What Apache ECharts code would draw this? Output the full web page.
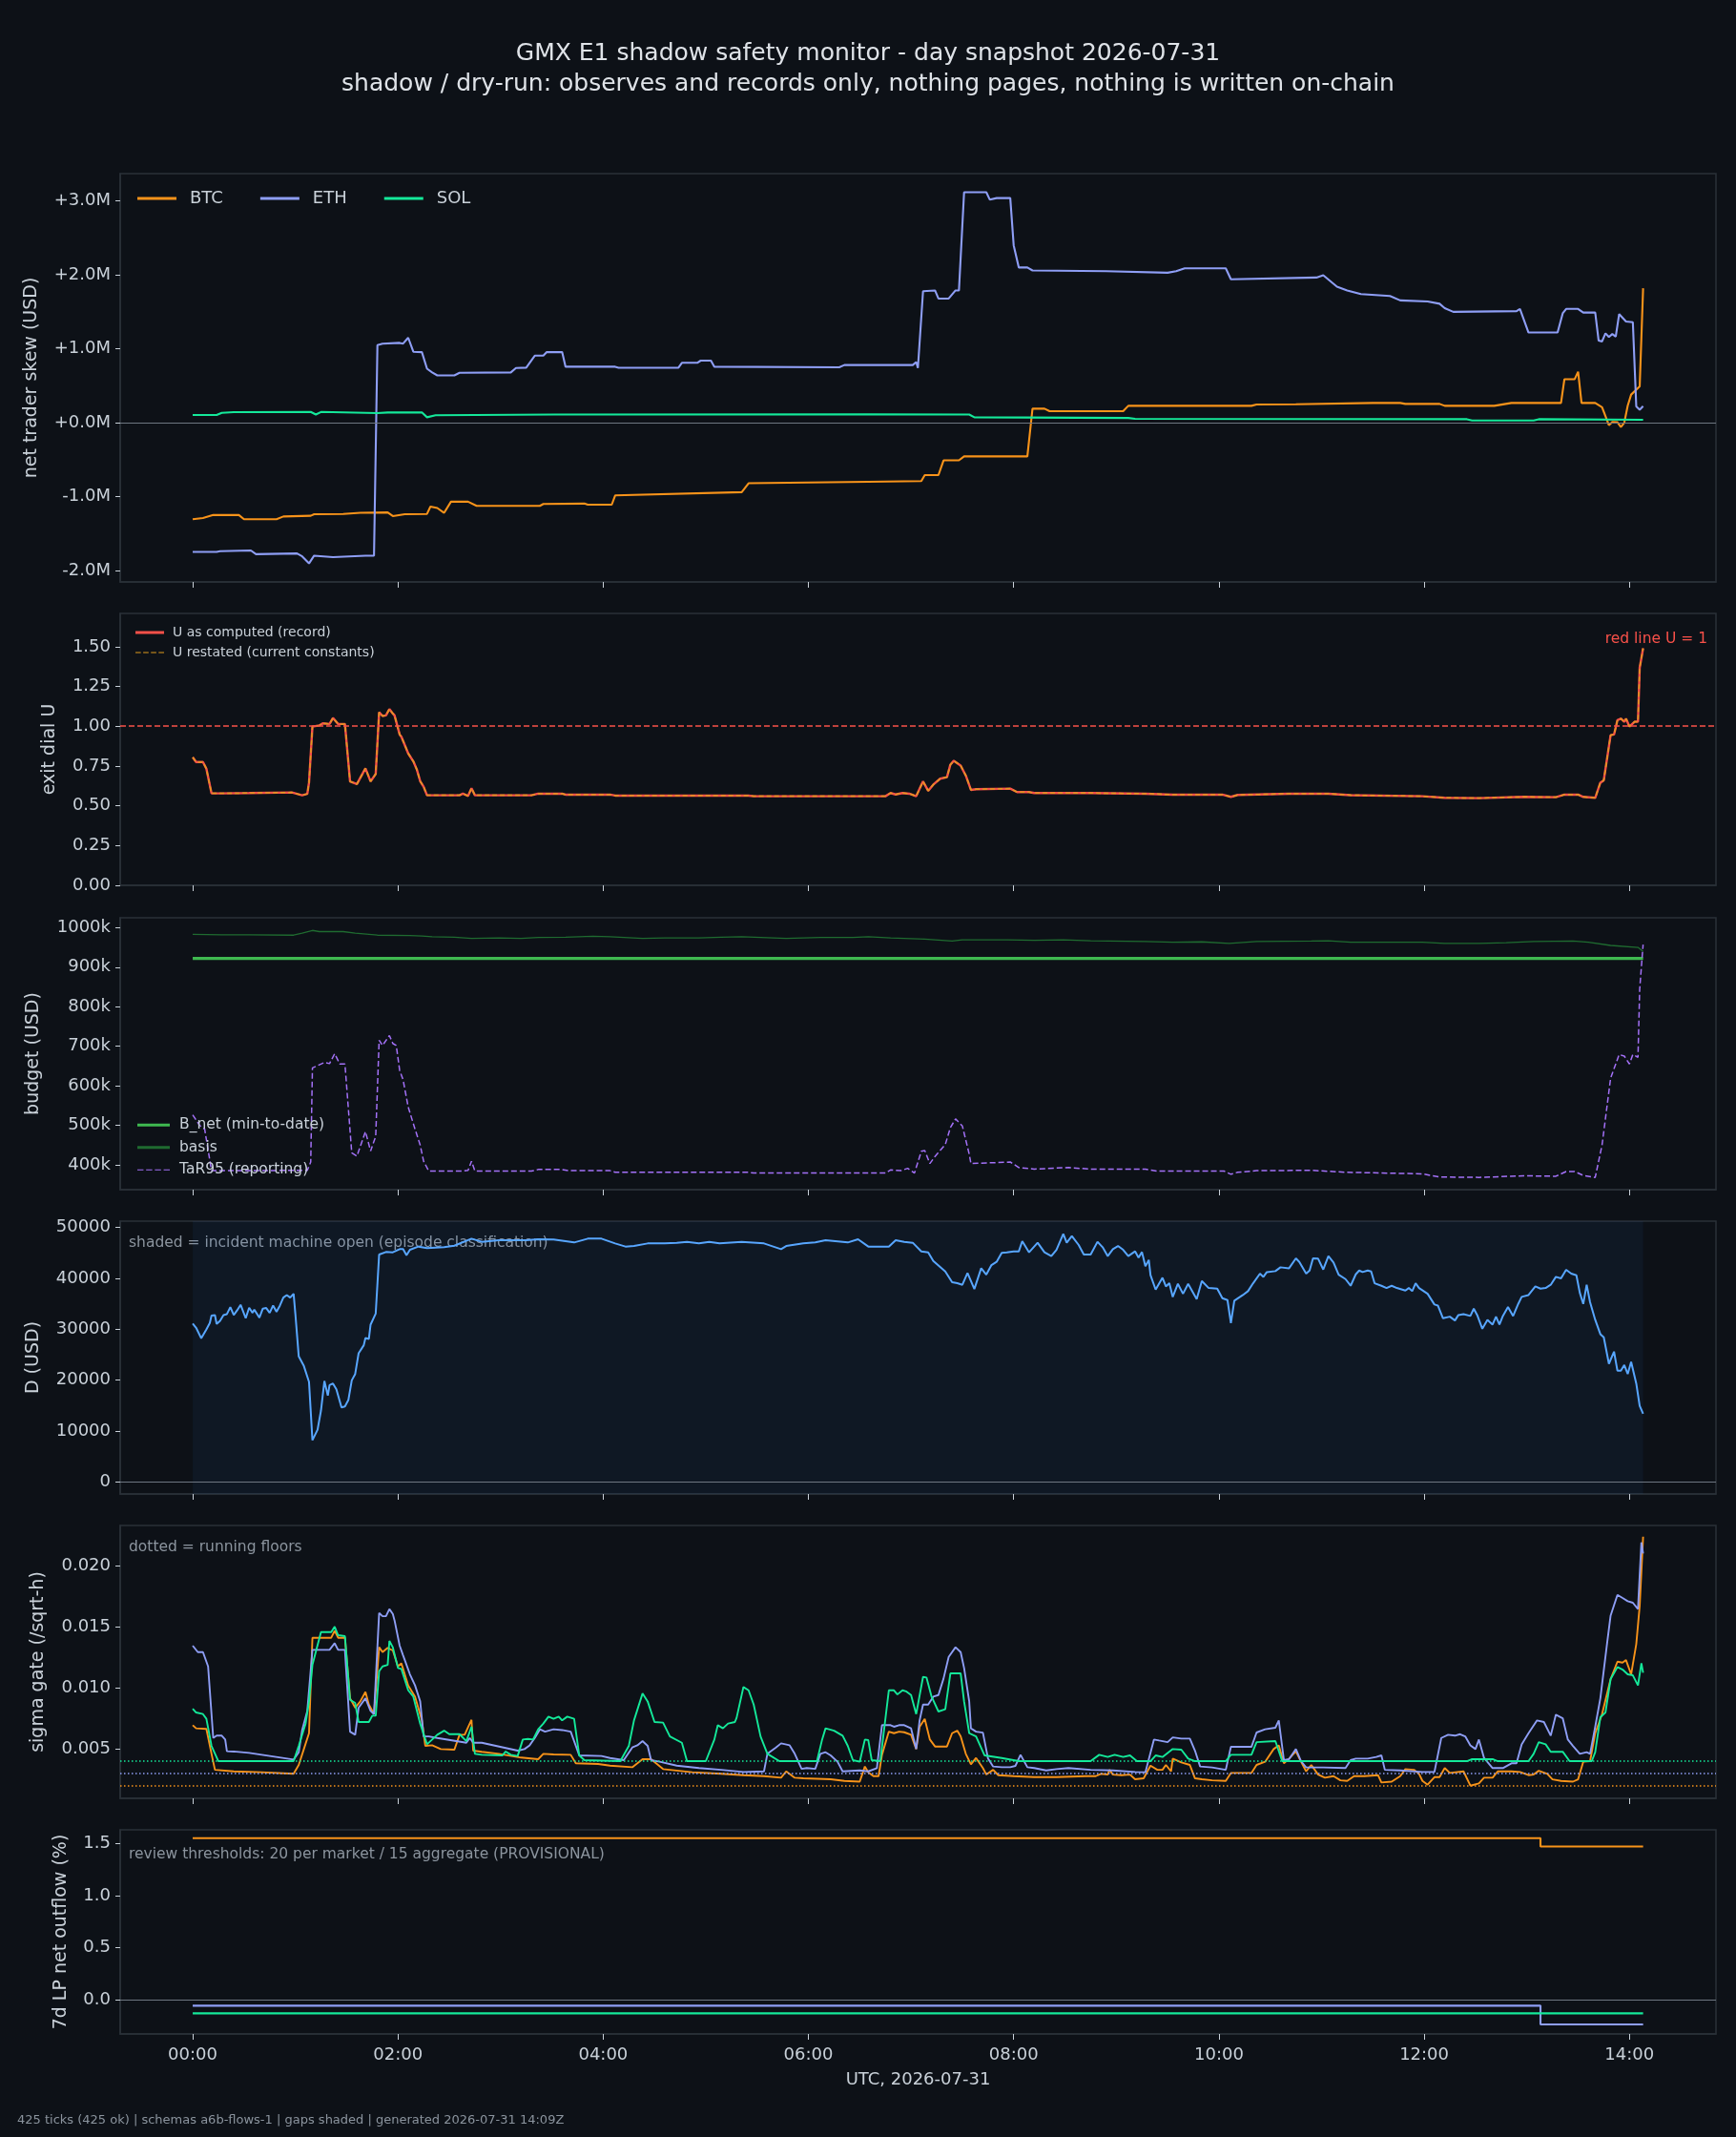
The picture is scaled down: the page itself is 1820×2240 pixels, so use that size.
<!DOCTYPE html>
<html>
<head>
<meta charset="utf-8">
<title>GMX E1 shadow safety monitor</title>
<script src="https://cdn.jsdelivr.net/npm/echarts@6.0.0/dist/echarts.min.js"></script>
<style>
html, body { margin: 0; padding: 0; background: #0d1117; }
#chart { width: 1820px; height: 2240px; }
</style>
</head>
<body>
<div id="chart"></div>
<script>
// x values are minutes after 00:00 UTC (one tick every 2 min)
var hourTicks = [0, 120, 240, 360, 480, 600, 720, 840];
var markets = ['BTC', 'ETH', 'SOL'];

// panel 1: net trader skew, $M
var btcSkew = [[0,-1.307],[6,-1.29],[12,-1.25],[27,-1.25],[30,-1.307],[49,-1.307],[53,-1.27],[69,-1.26],[71,-1.24],[88,-1.235],[98,-1.22],[114,-1.215],[117,-1.264],[124,-1.24],[137,-1.235],[139,-1.135],[143,-1.155],[147,-1.22],[151,-1.07],[161,-1.07],[166,-1.126],[203,-1.126],[205,-1.10],[229,-1.095],[231,-1.11],[245,-1.11],[247,-0.985],[321,-0.94],[325,-0.82],[395,-0.80],[426,-0.79],[428,-0.71],[436,-0.71],[439,-0.51],[448,-0.51],[451,-0.456],[488,-0.456],[491,0.19],[498,0.19],[501,0.155],[544,0.155],[547,0.228],[619,0.228],[622,0.245],[645,0.25],[690,0.267],[706,0.267],[709,0.254],[729,0.254],[732,0.228],[761,0.228],[771,0.267],[800,0.267],[802,0.589],[808,0.589],[810,0.69],[812,0.267],[820,0.267],[824,0.21],[828,-0.034],[830,0.01],[833,0.005],[835,-0.06],[837,0.0],[839,0.23],[841,0.38],[846,0.49],[848,1.82]];
var ethSkew = [[0,-1.75],[14,-1.75],[16,-1.74],[34,-1.73],[37,-1.78],[61,-1.77],[64,-1.81],[68,-1.905],[71,-1.80],[82,-1.82],[101,-1.80],[106,-1.80],[108,1.05],[111,1.07],[121,1.08],[123,1.07],[126,1.15],[129,0.96],[134,0.955],[137,0.73],[140,0.68],[143,0.64],[153,0.64],[156,0.675],[186,0.68],[189,0.74],[195,0.745],[200,0.907],[205,0.907],[207,0.955],[216,0.955],[218,0.757],[247,0.757],[249,0.744],[284,0.744],[286,0.81],[295,0.81],[297,0.84],[303,0.84],[305,0.757],[378,0.75],[381,0.78],[421,0.78],[423,0.82],[424,0.74],[427,1.78],[434,1.79],[436,1.68],[442,1.68],[446,1.79],[448,1.79],[451,3.12],[464,3.12],[466,3.02],[470,3.04],[478,3.04],[480,2.40],[483,2.10],[488,2.10],[491,2.06],[534,2.05],[570,2.03],[575,2.05],[580,2.09],[604,2.09],[607,1.94],[657,1.965],[661,1.995],[669,1.84],[675,1.79],[683,1.74],[700,1.715],[706,1.655],[722,1.64],[729,1.61],[732,1.55],[737,1.50],[774,1.51],[776,1.54],[781,1.22],[798,1.22],[801,1.48],[803,1.54],[810,1.54],[813,1.49],[820,1.49],[822,1.11],[824,1.10],[826,1.21],[828,1.16],[830,1.20],[832,1.165],[834,1.47],[838,1.37],[842,1.36],[844,0.22],[846,0.176],[848,0.224]];
var solSkew = [[0,0.103],[14,0.103],[17,0.133],[24,0.142],[69,0.146],[72,0.11],[75,0.145],[108,0.129],[114,0.138],[134,0.138],[137,0.073],[142,0.10],[211,0.11],[395,0.112],[454,0.11],[457,0.073],[547,0.064],[551,0.052],[745,0.047],[748,0.03],[784,0.03],[787,0.047],[848,0.039]];
var skewTicks = [-2, -1, 0, 1, 2, 3];

// panel 2: exit dial U
var uRecord = [[0,0.805],[2,0.775],[6,0.775],[8,0.733],[11,0.578],[17,0.578],[33,0.58],[58,0.584],[61,0.575],[64,0.566],[67,0.575],[68,0.645],[70,0.998],[74,1.005],[76,1.018],[80,1.014],[82,1.052],[85,1.014],[89,1.014],[92,0.653],[96,0.636],[101,0.735],[104,0.653],[107,0.70],[109,1.088],[111,1.064],[113,1.068],[115,1.108],[117,1.08],[118,1.068],[121,0.948],[122,0.934],[126,0.829],[129,0.779],[131,0.729],[133,0.655],[135,0.62],[137,0.566],[156,0.566],[158,0.576],[161,0.562],[163,0.61],[165,0.566],[198,0.566],[202,0.576],[216,0.576],[218,0.57],[244,0.57],[247,0.564],[325,0.564],[328,0.56],[405,0.56],[408,0.58],[411,0.571],[415,0.58],[419,0.576],[423,0.56],[427,0.653],[430,0.594],[433,0.633],[437,0.67],[441,0.68],[443,0.759],[445,0.783],[449,0.753],[452,0.69],[455,0.60],[458,0.604],[478,0.608],[482,0.586],[489,0.586],[492,0.58],[525,0.58],[557,0.576],[573,0.57],[602,0.57],[607,0.556],[611,0.568],[641,0.576],[664,0.576],[677,0.567],[719,0.56],[732,0.55],[752,0.548],[778,0.556],[797,0.554],[802,0.57],[810,0.57],[813,0.556],[820,0.55],[823,0.645],[825,0.66],[829,0.944],[831,0.948],[833,1.038],[835,1.048],[837,1.028],[838,1.048],[840,0.998],[843,1.028],[845,1.028],[846,1.367],[848,1.49]];
var uRestated = uRecord; // restated values overlay the record exactly on this day
var uRedLine = 1;
var uTicks = [0, 0.25, 0.5, 0.75, 1, 1.25, 1.5];

// panel 3: budget, $k
var bNet = [[0,922],[848,922]];
var basis = [[0,983],[17,982],[33,982],[59,981],[64,986],[70,993],[74,990],[88,990],[95,986],[108,981],[127,980],[134,979],[140,977],[153,976],[163,973],[179,974],[192,973],[202,975],[218,976],[234,978],[244,977],[263,973],[276,974],[296,974],[309,976],[321,977],[347,973],[367,975],[386,975],[395,977],[408,974],[428,971],[444,966],[450,969],[476,969],[492,968],[509,969],[525,967],[557,965],[573,963],[590,964],[606,960],[622,965],[654,966],[664,967],[677,963],[719,963],[732,960],[752,960],[768,962],[784,965],[807,966],[816,963],[829,955],[845,950],[848,940]];
var tar95 = [[0,526],[4,500],[7,490],[11,385],[24,385],[67,386],[69,407],[70,645],[77,659],[80,656],[83,681],[86,655],[89,655],[93,430],[96,422],[101,484],[104,435],[107,472],[109,715],[111,702],[115,727],[117,707],[119,702],[121,639],[123,615],[126,546],[130,490],[133,450],[135,409],[138,384],[158,384],[161,386],[163,409],[165,384],[198,384],[202,388],[216,388],[220,385],[244,385],[247,381],[325,381],[328,379],[405,379],[408,387],[414,385],[418,391],[422,379],[426,434],[428,436],[431,403],[434,421],[440,451],[443,494],[446,516],[450,498],[454,427],[455,403],[478,407],[483,393],[492,389],[512,393],[525,389],[557,389],[564,384],[603,384],[607,376],[611,381],[622,385],[654,386],[674,381],[719,377],[729,369],[752,368],[778,372],[797,371],[803,383],[808,383],[813,373],[820,368],[824,450],[829,619],[834,679],[837,675],[840,655],[842,679],[845,672],[846,844],[848,957]];
var budgetTicks = [400, 500, 600, 700, 800, 900, 1000];

// panel 4: D, USD; incident machine open over this span
var dUsd = [[0,31100],[2,30290],[5,28220],[6,28540],[8,29980],[10,31230],[11,32670],[13,32790],[14,31040],[16,31670],[18,32790],[20,32980],[22,34360],[24,32790],[26,33730],[28,34800],[31,32170],[33,34230],[35,33230],[36,33860],[39,32290],[41,34050],[43,34170],[45,33230],[47,34670],[49,33420],[51,34670],[53,36230],[55,36730],[57,36230],[59,36980],[60,33100],[62,24660],[65,22780],[68,19650],[70,8200],[73,10260],[75,14020],[77,19840],[79,16960],[80,19020],[82,19340],[84,18210],[87,14640],[89,14830],[91,16080],[93,19960],[95,21210],[97,25280],[100,26850],[101,28290],[103,28100],[104,30910],[107,33100],[109,44680],[110,44370],[113,45180],[117,45120],[121,45750],[123,45750],[125,44560],[127,45620],[132,46250],[137,45940],[147,46120],[153,46430],[163,47810],[169,47190],[179,47500],[195,47500],[202,47690],[211,47630],[223,47060],[231,47810],[239,47810],[247,46870],[253,46250],[258,46370],[266,46870],[276,46870],[283,47000],[289,47190],[296,46870],[302,47190],[308,46870],[321,47190],[334,46870],[344,45750],[347,46370],[357,46870],[364,47060],[370,47500],[383,47060],[389,47690],[395,46250],[407,46250],[411,47500],[416,47190],[421,47000],[426,45310],[430,45120],[433,43430],[440,41370],[444,39240],[447,39050],[450,38740],[453,41050],[457,37920],[461,41990],[464,40740],[467,42620],[470,43240],[473,45000],[476,45120],[480,45310],[483,45310],[485,47310],[489,45120],[494,47000],[498,45120],[502,44370],[505,45620],[509,48750],[511,47000],[514,48310],[518,46560],[521,44680],[525,44680],[529,47190],[532,46120],[535,44370],[538,45750],[541,46370],[544,45620],[547,44370],[551,45310],[553,44060],[555,45180],[557,42370],[559,43620],[560,40620],[563,37800],[567,40120],[569,38420],[571,39050],[573,36360],[576,38930],[579,36980],[582,38930],[587,35920],[590,39490],[594,38110],[599,37990],[602,36110],[605,35730],[607,31230],[609,35610],[614,36730],[617,37490],[620,39050],[624,40930],[626,40300],[628,41240],[633,41430],[636,42180],[641,41990],[645,43930],[647,43240],[651,40930],[653,41550],[655,43930],[658,43870],[661,41740],[664,44370],[667,43120],[670,40740],[674,39860],[677,38550],[680,40800],[682,41550],[684,41240],[687,41550],[689,41360],[691,39050],[695,38550],[698,38110],[701,38550],[704,38110],[709,37610],[711,38110],[713,37490],[715,39050],[717,38110],[722,36980],[726,34860],[728,34670],[731,32170],[735,32480],[738,31730],[740,32800],[743,32980],[747,32610],[749,34050],[751,32790],[754,30100],[757,31850],[760,30910],[762,32480],[764,30910],[766,32610],[769,34360],[772,32610],[775,34990],[777,36360],[781,36730],[785,38420],[788,37990],[791,38110],[794,38740],[797,40300],[800,39990],[803,41680],[806,40930],[809,40620],[811,37170],[813,34990],[815,38740],[817,35300],[820,31850],[823,29040],[825,28410],[828,23220],[831,25600],[833,21840],[835,21840],[837,22970],[839,21210],[841,23590],[844,19340],[846,14960],[848,13390]];
var incidentSpan = [0, 848];
var dTicks = [0, 10000, 20000, 30000, 40000, 50000];

// panel 5: sigma gate (/sqrt-h) and running floors
var btcSigma = [[0,0.00696],[2,0.0067],[8,0.00665],[11,0.00461],[13,0.0033],[24,0.00317],[40,0.0031],[59,0.00297],[62,0.0037],[65,0.005],[68,0.0063],[70,0.01413],[81,0.01413],[83,0.0147],[85,0.01413],[89,0.01413],[92,0.00917],[95,0.00839],[98,0.00891],[101,0.00969],[103,0.00865],[106,0.00787],[109,0.01335],[111,0.01295],[114,0.0133],[117,0.01309],[120,0.01178],[122,0.01204],[126,0.01022],[130,0.0093],[134,0.00735],[136,0.00526],[140,0.00531],[145,0.005],[153,0.00495],[156,0.00617],[159,0.00617],[163,0.0074],[164,0.00487],[169,0.00478],[179,0.00461],[192,0.0043],[202,0.00417],[205,0.00461],[211,0.00456],[221,0.00453],[224,0.00383],[237,0.00378],[244,0.00364],[257,0.00351],[260,0.00383],[263,0.00417],[268,0.00417],[275,0.00336],[292,0.0031],[309,0.00297],[322,0.00286],[334,0.00278],[344,0.00265],[347,0.00317],[352,0.00265],[357,0.0026],[373,0.00252],[381,0.00239],[390,0.00233],[393,0.00357],[395,0.0031],[398,0.00278],[401,0.00278],[403,0.00453],[407,0.00643],[410,0.0063],[413,0.00643],[416,0.00638],[420,0.00617],[423,0.005],[425,0.00683],[428,0.00748],[431,0.00578],[434,0.00521],[441,0.00521],[444,0.0063],[447,0.00651],[449,0.00604],[452,0.00461],[455,0.00375],[458,0.00427],[462,0.00344],[464,0.00291],[468,0.0033],[471,0.00286],[480,0.00278],[492,0.0027],[505,0.0027],[522,0.00278],[528,0.00278],[531,0.00297],[535,0.00291],[536,0.0033],[538,0.00291],[543,0.00286],[548,0.00291],[551,0.00252],[556,0.0026],[560,0.00364],[564,0.0033],[567,0.0033],[569,0.0037],[572,0.00317],[573,0.00422],[578,0.00391],[583,0.0037],[586,0.0026],[590,0.00252],[596,0.00244],[604,0.00239],[607,0.00304],[619,0.00304],[622,0.0037],[627,0.00396],[632,0.005],[635,0.00531],[638,0.00383],[641,0.00422],[645,0.0048],[648,0.00396],[651,0.00317],[654,0.0037],[658,0.00291],[662,0.00265],[667,0.00278],[671,0.00244],[675,0.00239],[679,0.00278],[685,0.00278],[693,0.00286],[695,0.00226],[701,0.00233],[706,0.00278],[709,0.00336],[714,0.0033],[717,0.00297],[719,0.00239],[722,0.00208],[726,0.0027],[729,0.0027],[732,0.00344],[735,0.00304],[743,0.00317],[747,0.002],[752,0.00218],[755,0.00265],[760,0.00265],[763,0.00317],[771,0.00317],[776,0.00312],[781,0.00286],[784,0.00291],[787,0.00322],[792,0.00297],[795,0.00252],[800,0.00239],[807,0.00233],[810,0.00252],[813,0.00396],[817,0.00401],[820,0.0063],[824,0.00787],[829,0.01074],[833,0.01217],[836,0.01209],[838,0.0123],[841,0.01113],[844,0.01361],[846,0.01674],[848,0.02242]];
var ethSigma = [[0,0.01348],[3,0.01295],[6,0.01295],[9,0.01178],[12,0.00591],[14,0.0061],[17,0.0061],[19,0.00578],[20,0.00482],[24,0.0048],[33,0.00469],[59,0.00414],[62,0.00474],[64,0.00656],[67,0.00813],[70,0.01314],[80,0.01314],[83,0.01368],[85,0.01314],[89,0.01314],[92,0.00643],[95,0.00617],[97,0.00839],[101,0.00917],[104,0.00813],[106,0.00787],[109,0.01616],[111,0.0159],[113,0.0159],[115,0.01648],[117,0.01608],[118,0.01556],[121,0.01348],[123,0.01269],[127,0.01113],[130,0.01022],[133,0.00891],[135,0.00604],[138,0.00604],[143,0.00591],[160,0.00552],[162,0.00591],[164,0.00552],[169,0.00552],[190,0.00487],[194,0.005],[197,0.00531],[200,0.00591],[203,0.00662],[206,0.00643],[211,0.00662],[216,0.00656],[221,0.00643],[226,0.00448],[239,0.00443],[244,0.00427],[252,0.00409],[257,0.00513],[260,0.00531],[263,0.00565],[266,0.00526],[268,0.00409],[273,0.00396],[283,0.00364],[296,0.00344],[309,0.0033],[322,0.00312],[334,0.00317],[336,0.00461],[341,0.00513],[344,0.00547],[349,0.00531],[352,0.00461],[356,0.00338],[359,0.00344],[364,0.00338],[367,0.00461],[370,0.00474],[373,0.00448],[377,0.00396],[380,0.00317],[390,0.00325],[395,0.00317],[400,0.00344],[403,0.00696],[408,0.00696],[410,0.00683],[413,0.00696],[416,0.00696],[420,0.0067],[423,0.005],[425,0.00735],[427,0.00865],[430,0.00865],[433,0.0093],[436,0.00943],[439,0.01079],[442,0.01256],[446,0.01335],[449,0.01295],[451,0.01165],[454,0.00891],[455,0.0067],[458,0.00643],[462,0.00635],[465,0.00422],[468,0.00357],[473,0.00351],[478,0.00351],[481,0.00362],[484,0.00453],[488,0.00351],[492,0.00344],[499,0.00325],[505,0.00336],[512,0.00344],[525,0.0033],[538,0.00325],[551,0.00312],[557,0.0031],[562,0.00578],[565,0.0057],[570,0.00557],[573,0.00596],[578,0.00586],[583,0.00586],[586,0.00487],[589,0.00357],[596,0.00349],[604,0.0033],[607,0.00518],[619,0.00518],[622,0.00636],[627,0.00662],[633,0.00675],[635,0.00735],[638,0.00409],[641,0.00417],[645,0.005],[648,0.00401],[651,0.00349],[661,0.00349],[674,0.00344],[677,0.00409],[680,0.00422],[687,0.00422],[692,0.00435],[695,0.00448],[697,0.0033],[706,0.00325],[719,0.00312],[726,0.00312],[730,0.00591],[734,0.00617],[738,0.0061],[741,0.00622],[744,0.00604],[747,0.00531],[750,0.005],[752,0.00578],[755,0.00427],[760,0.00344],[766,0.00344],[771,0.00383],[774,0.00383],[777,0.00539],[781,0.0063],[786,0.00735],[790,0.00722],[794,0.0061],[797,0.00782],[801,0.00753],[804,0.00578],[807,0.00526],[811,0.00461],[815,0.00474],[817,0.00461],[820,0.00683],[823,0.00917],[827,0.01374],[829,0.01595],[833,0.01765],[836,0.01739],[839,0.01713],[842,0.017],[845,0.01648],[847,0.02195],[848,0.02104]];
var solSigma = [[0,0.00831],[2,0.008],[6,0.00787],[8,0.00748],[11,0.00526],[15,0.00401],[59,0.00401],[62,0.00526],[66,0.00709],[68,0.00891],[70,0.01191],[75,0.0146],[81,0.0146],[83,0.01504],[85,0.01434],[89,0.01426],[92,0.00904],[95,0.00878],[97,0.00722],[103,0.00722],[105,0.00774],[107,0.00774],[109,0.01139],[111,0.01178],[114,0.01191],[115,0.01387],[117,0.01335],[120,0.01165],[122,0.01157],[126,0.00982],[129,0.0093],[133,0.00709],[137,0.00539],[140,0.00578],[143,0.00617],[147,0.00651],[150,0.00622],[156,0.00622],[160,0.00565],[163,0.00683],[165,0.00461],[169,0.00453],[181,0.00448],[183,0.0048],[186,0.00453],[190,0.00443],[193,0.00578],[196,0.00583],[199,0.00578],[202,0.00662],[205,0.00709],[208,0.00766],[211,0.00748],[214,0.00766],[216,0.00735],[219,0.00766],[223,0.00748],[226,0.00448],[229,0.00409],[250,0.00401],[255,0.00526],[258,0.00735],[263,0.00956],[266,0.00891],[270,0.00722],[275,0.00717],[279,0.00604],[286,0.00552],[289,0.00401],[300,0.00401],[305,0.00578],[307,0.00696],[310,0.0067],[313,0.00709],[317,0.00722],[318,0.00756],[322,0.01009],[325,0.00982],[328,0.00865],[332,0.00604],[336,0.00461],[343,0.00401],[365,0.00401],[368,0.00578],[370,0.0067],[375,0.00651],[380,0.0061],[383,0.00526],[386,0.00409],[390,0.00396],[393,0.00578],[395,0.00573],[397,0.00409],[402,0.00401],[407,0.00982],[410,0.00982],[412,0.00948],[415,0.00982],[417,0.00974],[420,0.00943],[423,0.00787],[427,0.01092],[429,0.01087],[432,0.0093],[436,0.00808],[440,0.00826],[443,0.01121],[449,0.01121],[451,0.00891],[454,0.0063],[458,0.00604],[463,0.00448],[473,0.00427],[483,0.00401],[525,0.00401],[530,0.00453],[535,0.00435],[539,0.00453],[544,0.00435],[548,0.00448],[552,0.00401],[560,0.00401],[563,0.00448],[567,0.00435],[573,0.005],[578,0.00495],[582,0.00422],[586,0.00401],[604,0.00401],[607,0.00453],[619,0.00453],[622,0.00557],[633,0.00565],[637,0.00401],[745,0.00401],[748,0.00417],[760,0.00417],[763,0.00401],[781,0.00401],[784,0.00461],[787,0.00557],[791,0.00539],[794,0.00478],[801,0.00478],[805,0.00401],[818,0.00401],[820,0.00474],[823,0.00761],[826,0.008],[829,0.01074],[833,0.01173],[836,0.01152],[839,0.01113],[842,0.01105],[845,0.01022],[847,0.01204],[848,0.01126]];
var sigmaFloors = [0.002, 0.003, 0.004]; // BTC, ETH, SOL
var sigmaTicks = [0.005, 0.010, 0.015, 0.020];

// panel 6: 7d LP net outflow, %
var btcOutflow = [[0,1.55],[788,1.47],[848,1.47]];
var ethOutflow = [[0,-0.055],[788,-0.235],[848,-0.235]];
var solOutflow = [[0,-0.128],[848,-0.128]];
var outflowTicks = [0, 0.5, 1.0, 1.5];

var BG = '#0d1117', FRAME = '#2a3038', TEXT = '#c9d1d9', MUTED = '#8b949e', ZERO = '#6e7681';
var COL = { BTC: '#f7931a', ETH: '#8e9ef5', SOL: '#14e99a' };
var FONT = 'DejaVu Sans';

var panels = [
  { top: 182, height: 428, name: 'net trader skew (USD)', gap: 83, min: -2.156, max: 3.371, ticks: skewTicks,
    fmt: function (v) { return (v >= 0 ? '+' : '') + v.toFixed(1) + 'M'; } },
  { top: 643, height: 285, name: 'exit dial U', gap: 64, min: 0, max: 1.709, ticks: uTicks,
    fmt: function (v) { return v.toFixed(2); } },
  { top: 962, height: 285, name: 'budget (USD)', gap: 81, min: 337, max: 1025, ticks: budgetTicks,
    fmt: function (v) { return v + 'k'; } },
  { top: 1280, height: 286, name: 'D (USD)', gap: 81, min: -2378, max: 51250, ticks: dTicks,
    fmt: function (v) { return String(v); } },
  { top: 1599, height: 286, name: 'sigma gate (/sqrt-h)', gap: 76, min: 0.00096, max: 0.02334, ticks: sigmaTicks,
    fmt: function (v) { return v.toFixed(3); } },
  { top: 1918, height: 214, name: '7d LP net outflow (%)', gap: 52, min: -0.326, max: 1.63, ticks: outflowTicks,
    fmt: function (v) { return v.toFixed(1); } }
];

function hhmm(v) {
  var h = Math.round(v / 60);
  return (h < 10 ? '0' : '') + h + ':00';
}

var grids = [], xAxes = [], yAxes = [];
panels.forEach(function (p, i) {
  grids.push({ left: 126, right: 21, top: p.top, height: p.height, show: true,
    borderColor: FRAME, borderWidth: 1.5, backgroundColor: 'transparent' });
  xAxes.push({
    type: 'value', gridIndex: i, min: -42.4, max: 890.6,
    axisLine: { show: true, onZero: false, lineStyle: { color: FRAME, width: 1.5 } },
    axisTick: { show: true, customValues: hourTicks, length: 6, lineStyle: { color: TEXT, width: 1 } },
    axisLabel: { show: i === 5, customValues: hourTicks, formatter: hhmm, color: TEXT, fontSize: 18, margin: 13, fontFamily: FONT },
    splitLine: { show: false },
    name: i === 5 ? 'UTC, 2026-07-31' : '', nameLocation: 'middle', nameGap: 39,
    nameTextStyle: { color: TEXT, fontSize: 18, fontFamily: FONT }
  });
  yAxes.push({
    type: 'value', gridIndex: i, min: p.min, max: p.max,
    axisLine: { show: true, onZero: false, lineStyle: { color: FRAME, width: 1.5 } },
    axisTick: { show: true, customValues: p.ticks, length: 5, lineStyle: { color: TEXT, width: 1 } },
    axisLabel: { customValues: p.ticks, formatter: p.fmt, color: TEXT, fontSize: 18, margin: 10, fontFamily: FONT },
    splitLine: { show: false },
    name: p.name, nameLocation: 'middle', nameGap: p.gap,
    nameTextStyle: { color: TEXT, fontSize: 19, fontFamily: FONT }
  });
});

function line(name, data, idx, color, width, extra) {
  var s = {
    type: 'line', name: name, data: data, xAxisIndex: idx, yAxisIndex: idx,
    symbol: 'none', showSymbol: false, animation: false,
    lineStyle: { color: color, width: width }, itemStyle: { color: color },
    emphasis: { disabled: true }
  };
  return Object.assign(s, extra || {});
}
// markLine rounds its value to `precision` decimals, so keep enough of them
function hLine(value, color, width, type) {
  return { silent: true, precision: 6, symbol: ['none', 'none'], label: { show: false },
    lineStyle: { color: color, width: width, type: type }, data: [{ yAxis: value }], animation: false };
}
// a reference line carried by its own empty series
function refLine(id, idx, value, color, width, type) {
  return line(id, [], idx, color, 1, { markLine: hLine(value, color, width, type) });
}

var skews = [btcSkew, ethSkew, solSkew];
var sigmas = [btcSigma, ethSigma, solSigma];
var outflows = [btcOutflow, ethOutflow, solOutflow];
var series = [];

// panel 1
series.push(refLine('zero0', 0, 0, ZERO, 1.2, 'solid'));
markets.forEach(function (m, k) { series.push(line(m, skews[k], 0, COL[m], 2.1)); });

// panel 2
series.push(refLine('redline', 1, uRedLine, '#f85149', 1.6, [6, 3]));
series.push(line('U as computed (record)', uRecord, 1, '#f85149', 2.4));
series.push(line('U restated (current constants)', uRestated, 1, '#e09b1e', 1.5,
  { lineStyle: { color: '#e09b1e', width: 1.5, type: [5, 3] } }));

// panel 3
series.push(line('B_net (min-to-date)', bNet, 2, '#3fb950', 3.2));
series.push(line('basis', basis, 2, '#1f6b30', 1.3));
series.push(line('TaR95 (reporting)', tar95, 2, '#a371f7', 1.5,
  { lineStyle: { color: '#a371f7', width: 1.5, type: [6, 3] } }));

// panel 4
series.push(refLine('zero3', 3, 0, ZERO, 1.2, 'solid'));
series.push(line('D', dUsd, 3, '#58a6ff', 2, {
  markArea: { silent: true, itemStyle: { color: 'rgba(56,139,253,0.06)' },
    data: [[{ xAxis: incidentSpan[0] }, { xAxis: incidentSpan[1] }]] }
}));

// panel 5: running floors first, then the gates
markets.forEach(function (m, k) {
  series.push(refLine('floor' + m, 4, sigmaFloors[k], COL[m], 1.5, [1.5, 2.5]));
});
markets.forEach(function (m, k) {
  series.push(line(m, sigmas[k], 4, COL[m], 1.9));
});

// panel 6
series.push(refLine('zero5', 5, 0, ZERO, 1.2, 'solid'));
markets.forEach(function (m, k) {
  series.push(line(m, outflows[k], 5, COL[m], 2.1, { step: 'end' }));
});

var dashIcon = 'path://M0,0h7v1h-7zM10,0h7v1h-7zM20,0h7v1h-7zM30,0h7v1h-7z';

var option = {
  backgroundColor: BG,
  animation: false,
  textStyle: { fontFamily: FONT },
  title: [
    { text: 'GMX E1 shadow safety monitor - day snapshot 2026-07-31', left: 'center', top: 44, padding: 0,
      textStyle: { color: '#dfe3e8', fontSize: 25, fontWeight: 'normal', fontFamily: FONT } },
    { text: 'shadow / dry-run: observes and records only, nothing pages, nothing is written on-chain', left: 'center', top: 76, padding: 0,
      textStyle: { color: '#dfe3e8', fontSize: 25, fontWeight: 'normal', fontFamily: FONT } }
  ],
  grid: grids,
  xAxis: xAxes,
  yAxis: yAxes,
  legend: [
    { data: markets, left: 139, top: 194, orient: 'horizontal', icon: 'rect',
      itemWidth: 41, itemHeight: 3, itemGap: 39, selectedMode: false,
      textStyle: { color: TEXT, fontSize: 18, fontFamily: FONT, padding: [0, 0, 0, 9] } },
    { data: [{ name: 'U as computed (record)', icon: 'rect' }, { name: 'U restated (current constants)', icon: dashIcon }],
      left: 137, top: 650, orient: 'vertical', itemWidth: 30, itemHeight: 3, itemGap: 5, selectedMode: false,
      textStyle: { color: TEXT, fontSize: 14, lineHeight: 16, fontFamily: FONT, padding: [0, 0, 0, 4] } },
    { data: [{ name: 'B_net (min-to-date)', icon: 'rect' }, { name: 'basis', icon: 'rect' }, { name: 'TaR95 (reporting)', icon: dashIcon }],
      left: 139, top: 1165, orient: 'vertical', itemWidth: 34, itemHeight: 3, itemGap: 5, selectedMode: false,
      textStyle: { color: TEXT, fontSize: 15.5, lineHeight: 18.5, fontFamily: FONT, padding: [0, 0, 0, 5] } }
  ],
  graphic: [
    { type: 'text', x: 1790, y: 670, silent: true,
      style: { text: 'red line U = 1', fill: '#f85149', font: '15.5px "DejaVu Sans"', textAlign: 'right', textVerticalAlign: 'middle' } },
    { type: 'text', x: 135, y: 1303, silent: true,
      style: { text: 'shaded = incident machine open (episode classification)', fill: MUTED, font: '15.5px "DejaVu Sans"', textAlign: 'left', textVerticalAlign: 'middle' } },
    { type: 'text', x: 135, y: 1622, silent: true,
      style: { text: 'dotted = running floors', fill: MUTED, font: '15.5px "DejaVu Sans"', textAlign: 'left', textVerticalAlign: 'middle' } },
    { type: 'text', x: 135, y: 1944, silent: true,
      style: { text: 'review thresholds: 20 per market / 15 aggregate (PROVISIONAL)', fill: MUTED, font: '15.5px "DejaVu Sans"', textAlign: 'left', textVerticalAlign: 'middle' } },
    { type: 'text', x: 18, y: 2223, silent: true,
      style: { text: '425 ticks (425 ok) | schemas a6b-flows-1 | gaps shaded | generated 2026-07-31 14:09Z', fill: MUTED, font: '13px "DejaVu Sans"', textAlign: 'left', textVerticalAlign: 'middle' } }
  ],
  series: series
};

var chart = echarts.init(document.getElementById('chart'), null, { renderer: 'canvas' });
chart.setOption(option);
</script>
</body>
</html>
